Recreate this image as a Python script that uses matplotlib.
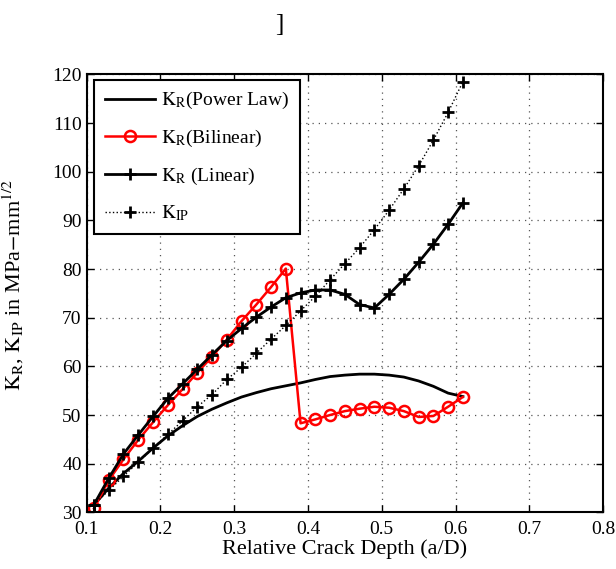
import numpy as np
import matplotlib
matplotlib.use("Agg")
import matplotlib.pyplot as plt

# crack depth ratio a/D
depth = [0.11, 0.13, 0.15, 0.17, 0.19, 0.21, 0.23, 0.25, 0.27, 0.29, 0.31, 0.33, 0.35,
         0.37, 0.39, 0.41, 0.43, 0.45, 0.47, 0.49, 0.51, 0.53, 0.55, 0.57, 0.59, 0.61]

kr_power = [31.5, 35.0, 38.0, 40.5, 43.2, 45.7, 47.8, 49.7, 51.2, 52.5, 53.7, 54.6, 55.4,
            56.0, 56.6, 57.3, 57.9, 58.2, 58.4, 58.4, 58.2, 57.8, 57.0, 55.9, 54.5, 53.8]

kr_bilinear = [30.8, 36.6, 40.9, 44.9, 48.5, 52.0, 55.3, 58.7, 62.0, 65.5, 69.3, 72.7, 76.3,
               80.1, 48.3, 49.1, 50.0, 50.8, 51.3, 51.7, 51.5, 50.8, 49.6, 49.8, 51.7, 53.7]

kr_linear = [31.6, 37.0, 42.0, 45.9, 49.7, 53.4, 56.4, 59.4, 62.4, 65.3, 67.8, 70.1, 72.2,
             74.1, 75.1, 75.7, 75.7, 74.8, 72.7, 72.0, 74.8, 77.9, 81.4, 85.1, 89.2, 93.6]

k_ip = [31.6, 34.5, 37.4, 40.3, 43.2, 46.0, 48.8, 51.7, 54.2, 57.3, 59.8, 62.7, 65.6,
        68.4, 71.4, 74.4, 77.8, 81.1, 84.4, 88.1, 92.1, 96.5, 101.2, 106.5, 112.2, 118.5]

x_ticks = [0.1, 0.2, 0.3, 0.4, 0.5, 0.6, 0.7, 0.8]
y_ticks = [30, 40, 50, 60, 70, 80, 90, 100, 110, 120]

plt.rcParams['font.family'] = ['Liberation Serif', 'DejaVu Serif']
plt.rcParams['mathtext.fontset'] = 'stix'
plt.rcParams['xtick.direction'] = 'in'
plt.rcParams['ytick.direction'] = 'in'

fig = plt.figure(figsize=(6.16, 5.69), dpi=100)
ax = fig.add_axes([0.1406, 0.0996, 0.8384, 0.7696])

ax.plot(depth, kr_power, color='black', lw=2.0, label=r'$\mathrm{K_R}$(Power Law)')
ax.plot(depth, kr_bilinear, color='red', lw=1.8, marker='o', ms=8, mfc='none',
        mec='red', mew=1.8, label=r'$\mathrm{K_R}$(Bilinear)')
ax.plot(depth, kr_linear, color='black', lw=2.0, marker='+', ms=9, mew=2.0,
        label=r'$\mathrm{K_R}$ (Linear)')
ax.plot(depth, k_ip, color='black', lw=1.0, ls=':', marker='+', ms=9, mew=2.0,
        label=r'$\mathrm{K_{IP}}$')

ax.set_xlim(0.1, 0.8)
ax.set_ylim(30, 120)
ax.set_xticks(x_ticks)
ax.set_yticks(y_ticks)
ax.set_xticklabels([f'{t:g}' for t in x_ticks])
ax.tick_params(labelsize=14, top=True, right=True, length=5, width=1)
ax.tick_params(axis='x', pad=6)
ax.grid(True, ls=(0, (1, 4)), color='#555555', lw=0.9)
for s in ax.spines.values():
    s.set_linewidth(1.5)

ax.set_xlabel('Relative Crack Depth (a/D)', fontsize=16, labelpad=1)
ax.set_ylabel(r'$\mathrm{K_R}$, $\mathrm{K_{IP}}$ in MPa$-$mm$^{1/2}$', fontsize=16)
ax.yaxis.set_label_coords(-0.118, 0.52)

leg = ax.legend(loc='upper left', bbox_to_anchor=(0.014, 0.988), borderaxespad=0,
                fontsize=14, frameon=True, fancybox=False, edgecolor='black',
                framealpha=1, handlelength=2.6, borderpad=0.55, labelspacing=0.85,
                handletextpad=0.3)
leg.get_frame().set_linewidth(1.5)

fig.text(279 / 616, 1 - 25 / 569, ']', fontsize=18, ha='center', va='center')

fig.savefig('out.png', dpi=100)
